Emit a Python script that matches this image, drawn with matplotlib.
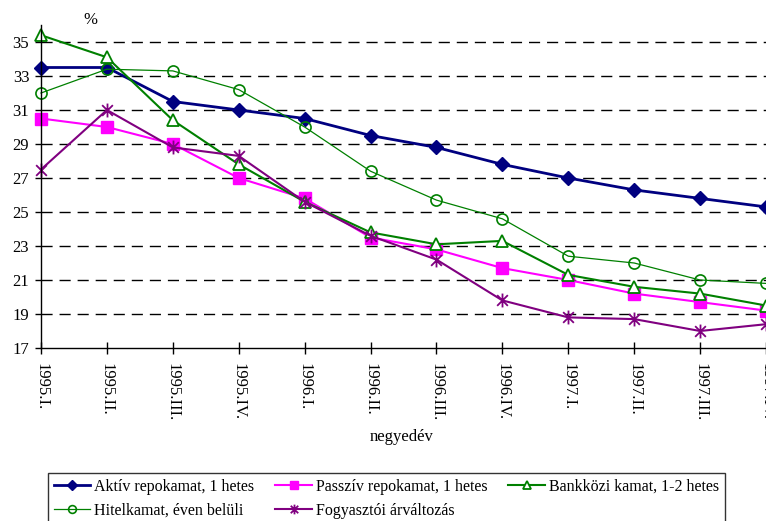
import numpy as np
import matplotlib.pyplot as plt
from matplotlib.path import Path

plt.rcParams["font.family"] = ["Liberation Serif", "DejaVu Serif"]

# negyedévek
negyedevek = ["1995.I.", "1995.II.", "1995.III.", "1995.IV.",
              "1996.I.", "1996.II.", "1996.III.", "1996.IV.",
              "1997.I.", "1997.II.", "1997.III.", "1997.IV."]

aktiv_repo = [33.5, 33.5, 31.5, 31.0, 30.5, 29.5, 28.8, 27.8, 27.0, 26.3, 25.8, 25.3]
passziv_repo = [30.5, 30.0, 29.0, 27.0, 25.8, 23.5, 22.8, 21.7, 21.0, 20.2, 19.7, 19.2]
bankkozi = [35.4, 34.1, 30.4, 27.8, 25.6, 23.8, 23.1, 23.3, 21.3, 20.6, 20.2, 19.5]
hitelkamat = [32.0, 33.4, 33.3, 32.2, 30.0, 27.4, 25.7, 24.6, 22.4, 22.0, 21.0, 20.8]
fogyasztoi = [27.5, 31.0, 28.8, 28.3, 25.6, 23.6, 22.2, 19.8, 18.8, 18.7, 18.0, 18.4]

y_ticks = [17, 19, 21, 23, 25, 27, 29, 31, 33, 35]

# csillag marker (X + függőleges vonal)
star = Path(
    [(-1, -1), (1, 1), (-1, 1), (1, -1), (0, -1.3), (0, 1.3)],
    [Path.MOVETO, Path.LINETO, Path.MOVETO, Path.LINETO, Path.MOVETO, Path.LINETO],
)

fig = plt.figure(figsize=(7.66, 5.21), dpi=100)
ax = fig.add_axes([41 / 766, 1 - 348 / 521, 1 - 41 / 766, (348 - 25) / 521])

x = np.arange(len(negyedevek))

l1, = ax.plot(x, aktiv_repo, color="#000080", lw=2, marker="D", ms=7,
              mfc="#000080", mec="#000080", label="Aktív repokamat, 1 hetes", clip_on=False)
l2, = ax.plot(x, passziv_repo, color="#FF00FF", lw=1.5, marker="s", ms=9,
              mfc="#FF00FF", mec="#FF00FF", label="Passzív repokamat, 1 hetes", clip_on=False)
l3, = ax.plot(x, bankkozi, color="#008000", lw=1.5, marker="^", ms=9, mew=1.3,
              mfc="white", mec="#008000", label="Bankközi kamat, 1-2 hetes", clip_on=False)
l4, = ax.plot(x, hitelkamat, color="#008000", lw=0.9, marker="o", ms=8, mew=1.2,
              mfc="none", mec="#008000", label="Hitelkamat, éven belüli", clip_on=False)
l5, = ax.plot(x, fogyasztoi, color="#800080", lw=1.5, marker=star, ms=10, mew=1.3,
              mec="#800080", label="Fogyasztói árváltozás", clip_on=False)

ax.set_xlim(0, len(negyedevek) - 1)
ax.set_ylim(17, 36)
ax.set_yticks(y_ticks)
ax.set_yticklabels([str(v) for v in y_ticks], fontsize=12)
ax.set_xticks(x)
ax.set_xticklabels(negyedevek, rotation=-90, fontsize=12, va="top")

for v in y_ticks[1:]:
    ax.axhline(v, color="black", lw=1, ls=(0, (8, 5)), zorder=0)

for s in ["top", "right"]:
    ax.spines[s].set_visible(False)
ax.spines["left"].set_linewidth(1)
ax.spines["bottom"].set_linewidth(1)
ax.tick_params(axis="x", direction="inout", length=8, width=1, pad=7)
ax.tick_params(axis="y", direction="out", length=4.5, width=1, pad=4)

fig.text(90 / 766, 1 - 20 / 521, "%", fontsize=12, ha="center", va="center")
fig.text(402 / 766, 1 - 437 / 521, "negyedév", fontsize=12, ha="center", va="center")

# sorfolytonos sorrend a 3 oszlopos jelmagyarázathoz
handles = [l1, l4, l2, l5, l3]
leg = fig.legend(handles, [h.get_label() for h in handles],
                 loc="upper left", bbox_to_anchor=(48 / 766, 1 - 473 / 521),
                 ncol=3, fontsize=11.5, frameon=True, fancybox=False,
                 edgecolor="black", handlelength=2.3, handletextpad=0.25,
                 columnspacing=1.3, labelspacing=0.5, borderaxespad=0,
                 borderpad=0.35, markerscale=0.7)
leg.get_frame().set_linewidth(1)

plt.savefig("out.png", dpi=100)
